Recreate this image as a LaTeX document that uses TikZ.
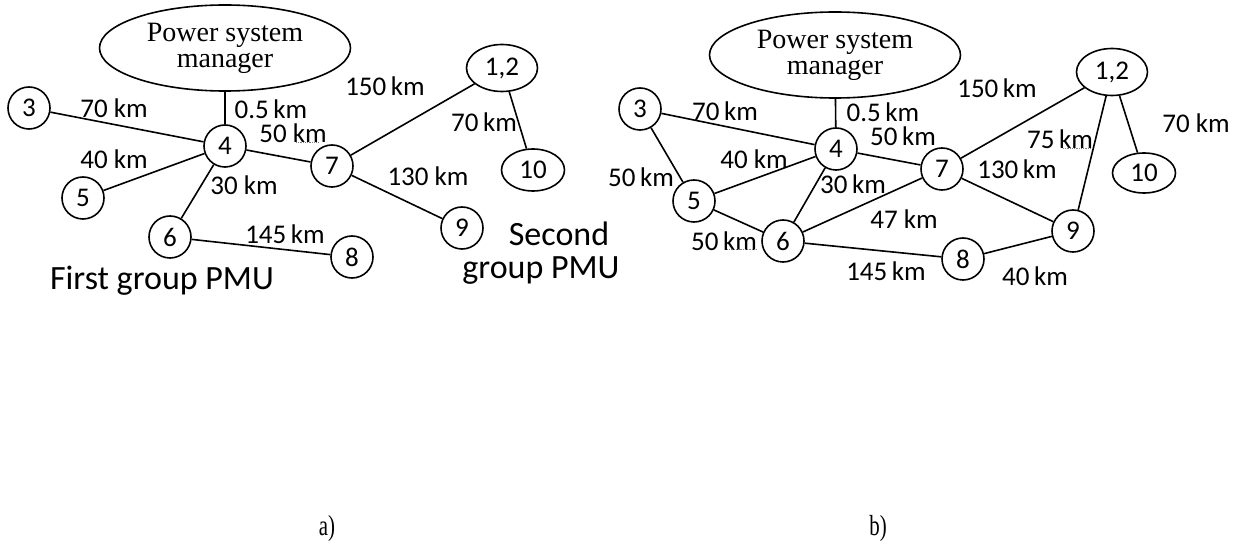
\documentclass[tikz,border=0pt]{standalone}
\usepackage{fontspec}
\setmainfont{Liberation Serif}
\newfontfamily\labfont{Carlito}
\usetikzlibrary{shapes.geometric}
\begin{document}
\begin{tikzpicture}[x=1pt,y=-1pt,
  bus/.style={circle,draw,line width=1.6pt,minimum size=42pt,inner sep=0pt,
    font=\labfont\fontsize{27}{27}\selectfont},
  busoval/.style={ellipse,draw,line width=1.6pt,inner sep=0pt,
    font=\labfont\fontsize{27}{27}\selectfont},
  mgr/.style={ellipse,draw,line width=1.6pt,minimum width=251pt,minimum height=86pt,
    inner sep=0pt,align=center,font=\fontsize{28}{26}\selectfont},
  dist/.style={font=\labfont\fontsize{27}{27}\selectfont,inner sep=0pt},
  grp/.style={font=\labfont\fontsize{34}{34}\selectfont,inner sep=0pt},
  link/.style={line width=1.6pt},
  spell/.style={densely dotted,gray,line width=0.8pt},
  captext/.style={font=\fontsize{29}{29}\selectfont,inner sep=0pt,xscale=0.72}]
\useasboundingbox (0,0) rectangle (1243,545);

% ---------- a) first and second PMU groups ----------
\node[mgr] (am) at (225,48) {Power system\\manager};
\node[bus] (a3) at (29,108) {3};
\node[bus] (a4) at (225,146) {4};
\node[bus] (a5) at (83,198) {5};
\node[bus] (a6) at (170,237) {6};
\node[bus] (a7) at (332,166) {7};
\node[bus] (a8) at (352,257) {8};
\node[bus] (a9) at (462,228) {9};
\node[busoval,minimum width=71pt,minimum height=47pt] (a12) at (502,68) {1,2};
\node[busoval,minimum width=63pt,minimum height=42pt] (a10) at (533,170) {10};

\draw[link] (am) -- (a4);
\draw[link] (a3) -- (a4);
\draw[link] (a5) -- (a4);
\draw[link] (a6) -- (a4);
\draw[link] (a4) -- (a7);
\draw[link] (a6) -- (a8);
\draw[link] (a7) -- (a12);
\draw[link] (a12) -- (a10);
\draw[link] (a7) -- (a9);

\node[dist] (la34) at (114,108) {70 km};
\node[dist] (lam4) at (271,109) {0.5\,km};
\node[dist] (la47) at (293,133) {50 km};
\node[dist] (la54) at (114,159) {40 km};
\node[dist] (la64) at (244,185) {30 km};
\node[dist] (la68) at (285,234) {145\,km};
\node[dist] (la712) at (385,86) {150\,km};
\node[dist] (la1210) at (484,122) {70\,km};
\node[dist] (la79) at (428,176) {130 km};
\draw[spell] (296,142) -- (318,142);

\node[grp] (ga1) at (162,281) {First group PMU};
\node[grp] (ga2) at (559,234) {Second};
\node[grp] (ga3) at (541,271) {group PMU};

\node[captext] (capa) at (327,529) {a)};

% ---------- b) interconnected network ----------
\node[mgr] (bm) at (835,55) {Power system\\manager};
\node[bus] (b3) at (640,109) {3};
\node[bus] (b4) at (836,149) {4};
\node[bus] (b5) at (694,201) {5};
\node[bus] (b6) at (783,241) {6};
\node[bus] (b7) at (942,169) {7};
\node[bus] (b8) at (963,259) {8};
\node[bus] (b9) at (1073,231) {9};
\node[busoval,minimum width=71pt,minimum height=47pt] (b12) at (1112,72) {1,2};
\node[busoval,minimum width=63pt,minimum height=40pt] (b10) at (1144,173) {10};

\draw[link] (bm) -- (b4);
\draw[link] (b3) -- (b4);
\draw[link] (b3) -- (b5);
\draw[link] (b5) -- (b4);
\draw[link] (b5) -- (b6);
\draw[link] (b6) -- (b4);
\draw[link] (b4) -- (b7);
\draw[link] (b6) -- (b7);
\draw[link] (b6) -- (b8);
\draw[link] (b8) -- (b9);
\draw[link] (b7) -- (b9);
\draw[link] (b7) -- (b12);
\draw[link] (b12) -- (b9);
\draw[link] (b12) -- (b10);

\node[dist] (lb34) at (725,111) {70\,km};
\node[dist] (lbm4) at (883,112) {0.5\,km};
\node[dist] (lb47) at (903,136) {50\,km};
\node[dist] (lb54) at (754,159) {40 km};
\node[dist] (lb35) at (641,177) {50\,km};
\node[dist] (lb64) at (853,184) {30\,km};
\node[dist] (lb56) at (724,241) {50\,km};
\node[dist] (lb67) at (904,219) {47 km};
\node[dist] (lb68) at (886,271) {145\,km};
\node[dist] (lb712) at (997,88) {150\,km};
\node[dist] (lb129) at (1060,139) {75\,km};
\node[dist] (lb79) at (1017,169) {130\,km};
\node[dist] (lb1210) at (1196,123) {70 km};
\node[dist] (lb89) at (1035,276) {40\,km};
\draw[spell] (727,249) -- (757,249);
\draw[spell] (1063,148) -- (1092,148);

\node[captext] (capb) at (878,529) {b)};
\end{tikzpicture}
\end{document}
